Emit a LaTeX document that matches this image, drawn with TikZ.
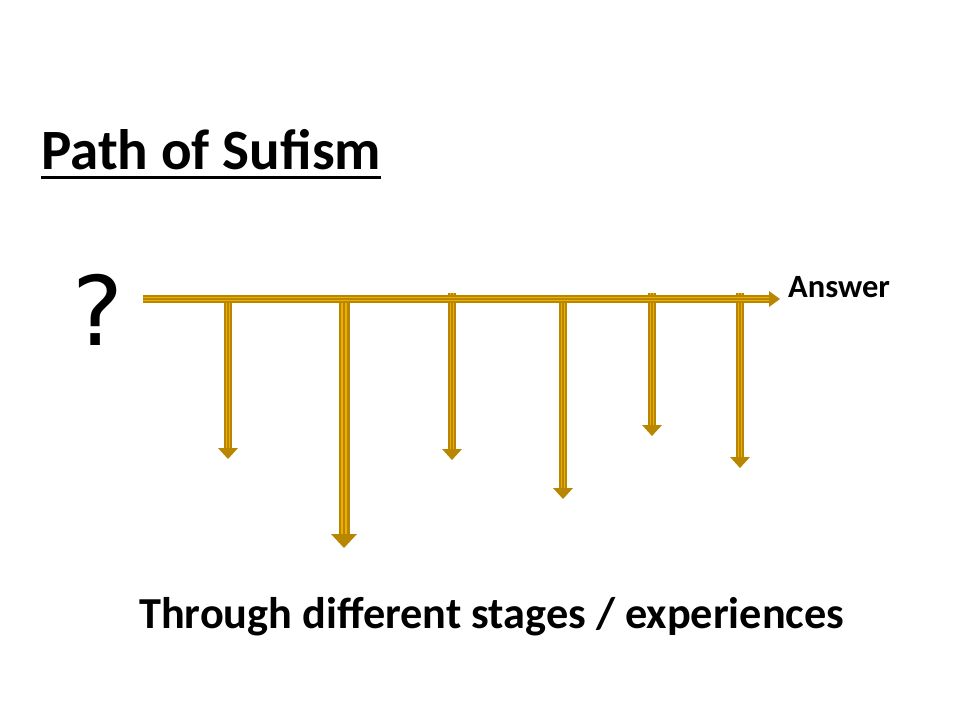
\documentclass[tikz,border=0pt]{standalone}
\usepackage{fontspec}
\setmainfont{Carlito}
\newfontfamily\qfont{DejaVu Sans}
\definecolor{gdark}{RGB}{184,134,0}
\definecolor{glight}{RGB}{236,176,0}
\tikzset{
  shaft/.style={draw=gdark, line width=#1pt,
    postaction={draw=glight, line width=#1pt*0.5},
    postaction={draw=gdark, line width=#1pt*0.15}},
  shaft/.default=8,
  head/.style={fill=gdark},
  lbl/.style={inner sep=0pt, anchor=base west, font=\bfseries}
}
\begin{document}
\begin{tikzpicture}[x=1pt,y=-1pt]
\useasboundingbox[fill=white] (0,0) rectangle (960,720);
% title
\node[lbl, font=\bfseries\fontsize{57}{66}\selectfont] (title) at (41,169) {Path of Sufism};
\draw[line width=3pt] ([yshift=-8pt]title.base west) -- ([yshift=-8pt]title.base east);
% question mark
\node[inner sep=0pt, anchor=base west, font=\qfont\fontsize{96}{110}\selectfont] (q) at (72,345) {?};
% vertical arrows: start, shaft end, tip
\foreach \n/\x/\ys/\ye in {a/228/303/448, c/452/293/449, d/563/303/488, e/652/293/425, f/740/293/457}{
  \coordinate (\n s) at (\x,\ys);
  \coordinate (\n e) at (\x,\ye);
  \draw[shaft] (\n s) -- (\n e);
  \fill[head] ([xshift=-10pt]\n e) -- ([xshift=10pt]\n e) -- ([yshift=-11pt]\n e) -- cycle;
}
\coordinate (bs) at (344,303);
\coordinate (be) at (344,534);
\draw[shaft=11] (bs) -- (be);
\fill[head] ([xshift=-13pt]be) -- ([xshift=13pt]be) -- ([yshift=-14pt]be) -- cycle;
% horizontal arrow
\coordinate (hs) at (143,299);
\coordinate (he) at (769,299);
\draw[shaft] (hs) -- (he);
\fill[head] ([yshift=8pt]he) -- ([yshift=-8pt]he) -- ([xshift=11pt]he) -- cycle;
% labels
\node[lbl, font=\bfseries\fontsize{32.5}{38}\selectfont] (ans) at (788,297) {Answer};
\node[lbl, font=\bfseries\fontsize{44.3}{52}\selectfont] (bottom) at (139,628) {Through different stages / experiences};
\end{tikzpicture}
\end{document}
